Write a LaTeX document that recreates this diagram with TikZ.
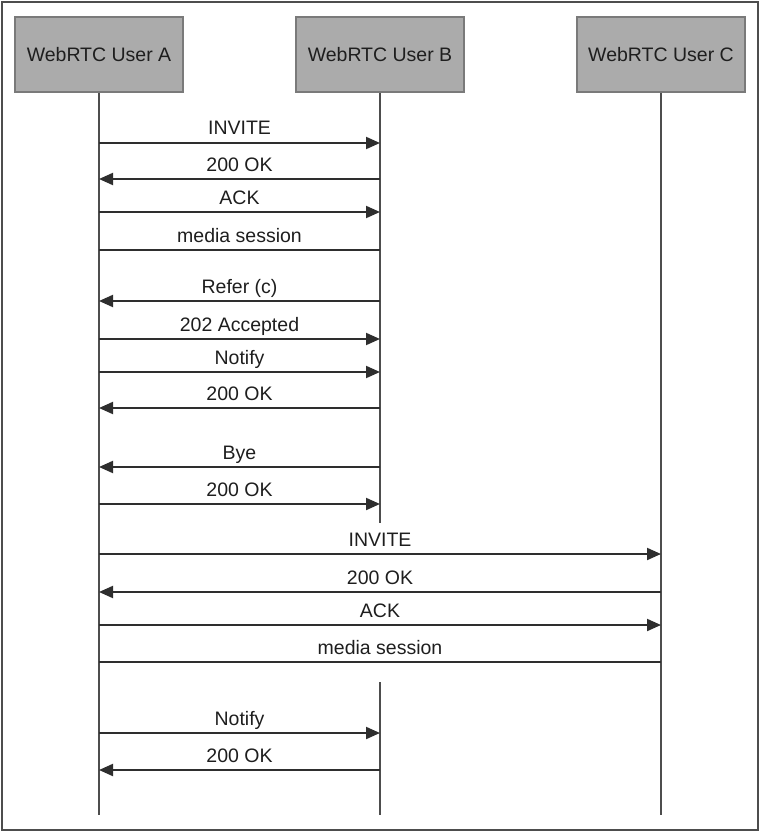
\documentclass[tikz,border=0pt]{standalone}
\usepackage{fontspec}
\setmainfont{Liberation Sans}
\usetikzlibrary{arrows.meta, positioning}
\definecolor{boxgray}{HTML}{ABABAB}
\definecolor{boxedge}{HTML}{7A7A7A}
\definecolor{linegray}{HTML}{2E2E2E}
\definecolor{textgray}{HTML}{1E1E1E}

\begin{document}
\begin{tikzpicture}[
    x=1pt, y=-1pt,
    actor/.style={draw=boxedge, line width=1.5pt, fill=boxgray, minimum width=168pt, minimum height=75pt,
      text=textgray, font=\fontsize{19.5}{23}\selectfont},
    life/.style={draw=linegray!85, line width=1.6pt},
    msg/.style={draw=linegray, line width=2pt, -{Triangle[length=14pt, width=12pt]}},
    sess/.style={draw=linegray, line width=2.4pt},
    lbl/.style={anchor=base, yshift=8pt, inner sep=0pt, text=textgray, font=\fontsize{19.5}{23}\selectfont}
]
\useasboundingbox (0,0) rectangle (761,832);
\draw[draw=linegray!85, line width=2pt] (2,2) rectangle (758,830);

% Participants
\node[actor] (usera) at (99,54.5) {WebRTC User A};
\node[actor] (userb) at (380,54.5) {WebRTC User B};
\node[actor] (userc) at (661,54.5) {WebRTC User C};

% Lifelines
\coordinate (enda) at (99,815);
\coordinate (endb) at (380,523);
\coordinate (startb) at (380,682);
\coordinate (endb2) at (380,815);
\coordinate (endc) at (661,815);
\draw[life] (usera.south) -- (enda);
\draw[life] (userb.south) -- (endb);
\draw[life] (startb) -- (endb2);
\draw[life] (userc.south) -- (endc);

% A <-> B call
\draw[msg] (usera |- 0,143) -- node[lbl]{INVITE} (userb |- 0,143);
\draw[msg] (userb |- 0,179) -- node[lbl]{200 OK} (usera |- 0,179);
\draw[msg] (usera |- 0,212) -- node[lbl]{ACK} (userb |- 0,212);
\draw[sess] (usera |- 0,250) -- node[lbl]{media session} (userb |- 0,250);

% Transfer
\draw[msg] (userb |- 0,301) -- node[lbl]{Refer (c)} (usera |- 0,301);
\draw[msg] (usera |- 0,339) -- node[lbl]{202 Accepted} (userb |- 0,339);
\draw[msg] (usera |- 0,372) -- node[lbl]{Notify} (userb |- 0,372);
\draw[msg] (userb |- 0,408) -- node[lbl]{200 OK} (usera |- 0,408);

% Hang up
\draw[msg] (userb |- 0,467) -- node[lbl]{Bye} (usera |- 0,467);
\draw[msg] (usera |- 0,504) -- node[lbl]{200 OK} (userb |- 0,504);

% A <-> C call
\draw[msg] (usera |- 0,554) -- node[lbl]{INVITE} (userc |- 0,554);
\draw[msg] (userc |- 0,592) -- node[lbl]{200 OK} (usera |- 0,592);
\draw[msg] (usera |- 0,625) -- node[lbl]{ACK} (userc |- 0,625);
\draw[sess] (usera |- 0,662) -- node[lbl]{media session} (userc |- 0,662);

% Final notify
\draw[msg] (usera |- 0,733) -- node[lbl]{Notify} (startb |- 0,733);
\draw[msg] (startb |- 0,770) -- node[lbl]{200 OK} (usera |- 0,770);

\end{tikzpicture}
\end{document}
